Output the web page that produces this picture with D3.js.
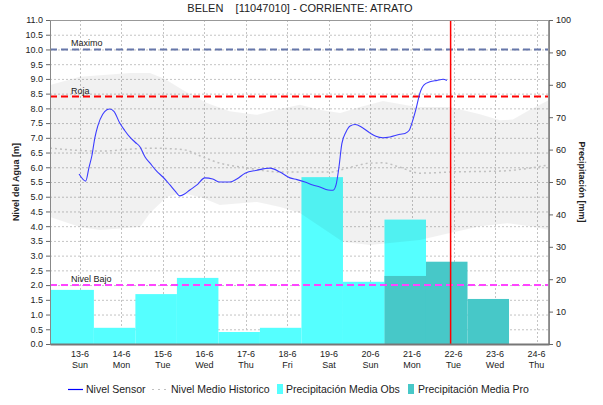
<!DOCTYPE html>
<html><head><meta charset="utf-8">
<script src="https://cdn.jsdelivr.net/npm/d3@7"></script>
<style>body{margin:0;background:#fff;} text{font-family:"Liberation Sans",Arial,sans-serif;}</style>
</head><body><svg id="c" width="603" height="405"></svg>
<script>
// ---- data ----
const title = "BELEN    [11047010] - CORRIENTE: ATRATO";
const dayTicks = [13,14,15,16,17,18,19,20,21,22,23,24];
const dayLabels = ["13-6","14-6","15-6","16-6","17-6","18-6","19-6","20-6","21-6","22-6","23-6","24-6"];
const weekdays = ["Sun","Mon","Tue","Wed","Thu","Fri","Sat","Sun","Mon","Tue","Wed","Thu"];
const levelTicks = d3.range(0, 11.01, 0.5);
const precipTicks = [0,10,20,30,40,50,60,70,80,90,100];

// sensor level: time (day of June) and level [m]
const sensorT = [12.98,13.14,13.22,13.29,13.36,13.43,13.55,13.65,13.72,13.82,13.96,14.08,14.20,14.33,14.45,14.57,14.69,14.86,15.00,15.17,15.29,15.41,15.53,15.65,15.82,16.01,16.20,16.37,16.61,16.78,16.98,17.27,17.58,17.82,18.06,18.23,18.42,18.61,18.78,18.98,19.10,19.17,19.24,19.31,19.41,19.51,19.63,19.80,19.99,20.13,20.30,20.47,20.71,20.83,20.93,21.02,21.10,21.19,21.29,21.43,21.60,21.75,21.84];
const sensorL = [5.77,5.53,6.0,6.4,7.0,7.4,7.8,7.95,7.98,7.9,7.5,7.25,7.03,6.85,6.69,6.35,6.14,5.85,5.67,5.4,5.2,5.03,5.1,5.23,5.4,5.64,5.6,5.5,5.5,5.6,5.8,5.9,5.97,5.84,5.64,5.58,5.5,5.4,5.33,5.23,5.22,5.4,6.0,6.8,7.2,7.4,7.45,7.35,7.16,7.05,7.0,7.03,7.12,7.15,7.25,7.6,8.0,8.52,8.8,8.9,8.95,8.99,8.95];

// historic mean level
const meanT = [12.28,13.48,14.69,15.48,15.96,16.37,16.93,17.82,19.02,19.51,19.99,20.30,20.71,21.19,21.92,23.12,24.30];
const meanL = [6.65,6.55,6.65,6.6,6.35,6.14,6.0,5.84,5.84,6.0,6.14,6.15,6.0,5.8,5.84,5.87,6.08];

// historic band (upper / lower envelopes)
const bandUpT = [12.28,13.0,14.2,14.69,15.05,15.48,16.06,16.61,17.27,17.82,18.30,18.78,19.27,19.75,20.30,20.71,21.12,21.92,22.64,23.12,23.43,23.84,24.30];
const bandUpL = [8.79,9.07,9.2,9.2,9.0,8.62,8.18,7.9,7.78,7.98,8.12,7.95,7.84,8.05,8.25,8.15,8.05,8.05,7.8,7.6,7.62,7.95,8.28];
const bandLoT = [12.28,13.0,13.48,14.45,14.69,15.10,15.48,15.96,16.37,17.27,17.82,18.30,19.34,19.99,21.19,21.92,22.64,23.29,23.84,24.30];
const bandLoL = [4.31,3.97,3.87,3.97,4.45,5.0,5.13,4.96,4.72,4.82,4.65,4.45,3.46,3.36,3.53,3.77,4.0,4.1,4.0,3.87];

// precipitation bars: start day and value [mm]
const obsStart = [12.28,13.337,14.337,15.337,16.337,17.337,18.337,19.337,20.337];
const obsEnd = [13.337,14.337,15.337,16.337,17.337,18.337,19.337,20.337,21.337];
const obsVal = [16.7,5.0,15.4,20.4,3.7,5.0,51.5,19.2,38.4];
const proStart = [20.337,21.337,22.337];
const proEnd = [21.337,22.337,23.337];
const proVal = [21.0,25.4,13.9];

// reference levels
const refNames = ["Maximo","Roja","Nivel Bajo"];
const refLevels = [10.0,8.4,2.0];
const nowDay = 21.93;

// ---- chart ----
const svg = d3.select("#c");
const L = 50, R = 549, T = 20, B = 344;
const x = d3.scaleLinear().domain([12.28, 24.30]).range([L, R]);
const y = d3.scaleLinear().domain([0, 11]).range([B, T]);
const yp = d3.scaleLinear().domain([0, 100]).range([B, T]);

svg.append("defs").append("clipPath").attr("id","clip")
  .append("rect").attr("x",L).attr("y",T).attr("width",R-L).attr("height",B-T);

// grid
const grid = svg.append("g");
grid.selectAll("line.h").data(levelTicks.slice(1)).join("line")
  .attr("x1",L).attr("x2",R).attr("y1",d=>y(d)+0.5).attr("y2",d=>y(d)+0.5)
  .attr("stroke","#c4c4c4").attr("stroke-dasharray","2,2");
grid.selectAll("line.v").data(dayTicks).join("line")
  .attr("x1",d=>Math.round(x(d))+0.5).attr("x2",d=>Math.round(x(d))+0.5).attr("y1",T).attr("y2",B)
  .attr("stroke","#c4c4c4").attr("stroke-dasharray","2,2");

const plot = svg.append("g").attr("clip-path","url(#clip)");

// precipitation bars
plot.selectAll("rect.obs").data(obsStart).join("rect")
  .attr("x",d=>x(d)).attr("width",(d,i)=>x(obsEnd[i])-x(d))
  .attr("y",(d,i)=>yp(obsVal[i])).attr("height",(d,i)=>B-yp(obsVal[i]))
  .attr("fill","#55ffff");
plot.selectAll("rect.pro").data(proStart).join("rect")
  .attr("x",d=>x(d)).attr("width",(d,i)=>x(proEnd[i])-x(d))
  .attr("y",(d,i)=>yp(proVal[i])).attr("height",(d,i)=>B-yp(proVal[i]))
  .attr("fill","#47c8c8");

// band
const up = bandUpT.map((t,i)=>[t,bandUpL[i]]);
const lo = bandLoT.map((t,i)=>[t,bandLoL[i]]).reverse();
const pts = up.concat(lo);
plot.append("path").attr("d", d3.line().x(d=>x(d[0])).y(d=>y(d[1])).curve(d3.curveLinearClosed)(pts))
  .attr("fill","#000").attr("fill-opacity",0.055);

// mean line
plot.append("path").datum(meanT.map((t,i)=>[t,meanL[i]]))
  .attr("d", d3.line().x(d=>x(d[0])).y(d=>y(d[1])).curve(d3.curveMonotoneX))
  .attr("fill","none").attr("stroke","#c0c0c0").attr("stroke-width",1.5).attr("stroke-dasharray","2,3");

// reference lines
const refColors = ["#6677aa","#ff0000","#ff44ff"];
refLevels.forEach((v,i)=>{
  plot.append("line").attr("x1",L).attr("x2",R).attr("y1",y(v)).attr("y2",y(v))
    .attr("stroke",refColors[i]).attr("stroke-width",2).attr("stroke-dasharray","7,4");
  svg.append("text").attr("x",71).attr("y",y(v)-3).attr("font-size",9).attr("fill","#222").text(refNames[i]);
});

// sensor line
plot.append("path").datum(sensorT.map((t,i)=>[t,sensorL[i]]))
  .attr("d", d3.line().x(d=>x(d[0])).y(d=>y(d[1])).curve(d3.curveMonotoneX))
  .attr("fill","none").attr("stroke","#3c3cff").attr("stroke-width",1.1);

// now line
plot.append("line").attr("x1",x(nowDay)).attr("x2",x(nowDay)).attr("y1",T).attr("y2",B)
  .attr("stroke","#ff0000").attr("stroke-width",1.5);

// frame
svg.append("rect").attr("x",L+0.5).attr("y",T+0.5).attr("width",R-L-1).attr("height",B-T)
  .attr("fill","none").attr("stroke","#999");

// axes
const axL = svg.append("g").attr("transform",`translate(${L},0)`)
  .call(d3.axisLeft(y).tickValues(levelTicks).tickFormat(d3.format(".1f")).tickSize(4).tickSizeOuter(0));
const axR = svg.append("g").attr("transform",`translate(${R},0)`)
  .call(d3.axisRight(yp).tickValues(precipTicks).tickSize(4).tickSizeOuter(0));
const axB = svg.append("g").attr("transform",`translate(0,${B})`)
  .call(d3.axisBottom(x).tickValues(dayTicks).tickFormat("").tickSize(0).tickSizeOuter(0));
[axL,axR].forEach(a=>{
  a.selectAll("text").attr("font-size",9).attr("fill","#222").style("font-family","Liberation Sans, Arial, sans-serif");
  a.selectAll("line").attr("stroke","#666");
  a.select(".domain").attr("stroke","#888");
});
axB.select(".domain").attr("stroke","#777").attr("stroke-width",2);
axR.selectAll("text").attr("x",7);

// x labels
const xl = svg.append("g");
xl.selectAll("text.d").data(dayTicks).join("text")
  .attr("x",d=>x(d)).attr("y",357).attr("text-anchor","middle").attr("font-size",9).attr("fill","#222")
  .text((d,i)=>dayLabels[i]);
xl.selectAll("text.w").data(dayTicks).join("text")
  .attr("x",d=>x(d)).attr("y",368).attr("text-anchor","middle").attr("font-size",9).attr("fill","#222")
  .text((d,i)=>weekdays[i]);

// titles
svg.append("text").attr("x",300).attr("y",12).attr("text-anchor","middle").attr("font-size",11).attr("fill","#222")
  .style("white-space","pre").attr("xml:space","preserve").text(title);
svg.append("text").attr("transform","translate(19,182) rotate(-90)").attr("text-anchor","middle")
  .attr("font-size",9).attr("font-weight","bold").attr("fill","#222").text("Nivel del Agua [m]");
svg.append("text").attr("transform","translate(579,182) rotate(90)").attr("text-anchor","middle")
  .attr("font-size",9).attr("font-weight","bold").attr("fill","#222").text("Precipitación [mm]");

// legend
const lg = svg.append("g").attr("font-size",10.5).attr("fill","#222");
lg.append("line").attr("x1",68).attr("x2",83).attr("y1",389.5).attr("y2",389.5).attr("stroke","#0000ff").attr("stroke-width",1.2);
lg.append("text").attr("x",86).attr("y",393).text("Nivel Sensor");
lg.append("line").attr("x1",152).attr("x2",167).attr("y1",389.5).attr("y2",389.5).attr("stroke","#c0c0c0").attr("stroke-width",1.2).attr("stroke-dasharray","2,4");
lg.append("text").attr("x",171).attr("y",393).text("Nivel Medio Historico");
lg.append("rect").attr("x",277).attr("y",384).attr("width",6).attr("height",10).attr("fill","#55ffff");
lg.append("text").attr("x",286).attr("y",393).text("Precipitación Media Obs");
lg.append("rect").attr("x",408).attr("y",384).attr("width",6).attr("height",10).attr("fill","#47c8c8");
lg.append("text").attr("x",418).attr("y",393).text("Precipitación Media Pro");
</script></body></html>
